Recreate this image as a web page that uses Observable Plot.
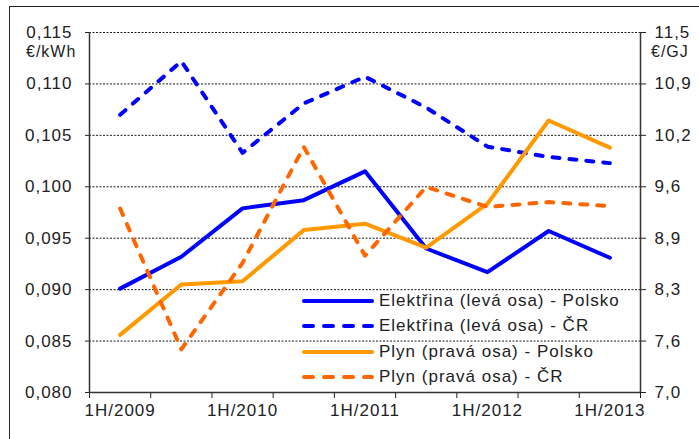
<!DOCTYPE html>
<html><head><meta charset="utf-8">
<script src="https://cdn.jsdelivr.net/npm/d3@7"></script>
<script src="https://cdn.jsdelivr.net/npm/@observablehq/plot@0.6"></script>
<style>
body{margin:0;background:#fff;}
#wrap{position:relative;width:699px;height:439px;overflow:hidden;font-family:"Liberation Sans",Arial,sans-serif;color:#222;}
#frame{position:absolute;left:9px;top:6px;width:720px;height:480px;border:1.5px solid #222;}
#chart{position:absolute;left:0;top:0;}
.unit{position:absolute;font-size:16px;letter-spacing:1px;}
#legend{position:absolute;left:302px;top:288px;}
.row{height:25.5px;display:flex;align-items:center;font-size:17px;letter-spacing:1px;white-space:nowrap;}
.row svg{margin-right:5px;}
</style></head><body>
<div id="wrap">
<div id="frame"></div>
<div id="chart"></div>
<div class="unit" style="left:26px;top:43px;">€/kWh</div>
<div class="unit" style="left:651px;top:43px;">€/GJ</div>
<div id="legend"></div>
</div>
<script>
const periods = ["1H/2009","2H/2009","1H/2010","2H/2010","1H/2011","2H/2011","1H/2012","2H/2012","1H/2013"];
const xLabels = ["1H/2009","1H/2010","1H/2011","1H/2012","1H/2013"];
const elPolsko = [0.0901,0.0932,0.0979,0.0987,0.1015,0.0940,0.0917,0.0957,0.0931];
const elCR = [0.1070,0.1122,0.1033,0.1081,0.1107,0.1077,0.1039,0.1029,0.1023];
const plynPolsko = [7.72,8.35,8.39,9.03,9.11,8.81,9.36,10.40,10.06];
const plynCR = [9.30,7.54,8.62,10.07,8.71,9.57,9.32,9.38,9.33];
const leftTicks = [0.080,0.085,0.090,0.095,0.100,0.105,0.110,0.115];
const rightTickLabels = ["7,0","7,6","8,3","8,9","9,6","10,2","10,9","11,5"];
const seriesNames = ["Elektřina (levá osa) - Polsko","Elektřina (levá osa) - ČR","Plyn (pravá osa) - Polsko","Plyn (pravá osa) - ČR"];
const seriesColors = ["#0000ff","#0000ff","#ff9900","#ff6600"];
const seriesDash = [null,"7,10",null,"7,10"];

const L0 = leftTicks[0], L1 = leftTicks[leftTicks.length-1];
const R0 = parseFloat(rightTickLabels[0].replace(",", ".")), R1 = parseFloat(rightTickLabels[rightTickLabels.length-1].replace(",", "."));
const toLeft = g => L0 + (g - R0) * (L1 - L0) / (R1 - R0);

const seriesValues = [elPolsko, elCR, plynPolsko.map(toLeft), plynCR.map(toLeft)];
const rows = [];
seriesValues.forEach((vals, s) => vals.forEach((v, i) => rows.push({i, v, s})));

const boundaries = periods.map((_, i) => i - 0.5).concat([periods.length - 0.5]);
const labelIdx = xLabels.map(l => periods.indexOf(l));
const fmtL = d => d3.format(".3f")(d).replace(".", ",");
const fmtR = d => rightTickLabels[Math.round((d - L0) / ((L1 - L0) / (rightTickLabels.length - 1)))];

const lineMarks = seriesValues.map((_, s) =>
  Plot.line(rows.filter(r => r.s === s), {
    x: "i", y: "v", stroke: seriesColors[s], strokeWidth: 4,
    strokeDasharray: seriesDash[s] || undefined,
    strokeLinecap: "round", strokeLinejoin: "round"
  })
);

const chart = Plot.plot({
  width: 699, height: 439,
  marginLeft: 89, marginRight: 59, marginTop: 32, marginBottom: 47,
  style: {fontFamily: "Liberation Sans, Arial, sans-serif", fontSize: "17px", letterSpacing: "1px", color: "#222", background: "transparent", overflow: "visible"},
  x: {domain: [-0.5, periods.length - 0.5]},
  y: {domain: [L0, L1]},
  marks: [
    Plot.gridY(leftTicks.slice(1), {stroke: "#000", strokeOpacity: 1, strokeWidth: 0.9, strokeDasharray: "2,1.5"}),
    Plot.axisY({anchor: "left", ticks: leftTicks, tickSize: 4, tickPadding: 13, tickFormat: fmtL, label: null, stroke: "#222"}),
    Plot.axisY({anchor: "right", ticks: leftTicks, tickSize: 5, tickPadding: 9, tickFormat: fmtR, label: null, stroke: "#222"}),
    Plot.axisX({ticks: boundaries, tickSize: 6, tickFormat: () => "", label: null, stroke: "#222"}),
    Plot.axisX({ticks: labelIdx, tickSize: 0, tickPadding: 11, tickFormat: i => periods[i], label: null}),
    Plot.ruleX([boundaries[0]], {stroke: "#333", strokeWidth: 1.5}),
    Plot.ruleX([boundaries[boundaries.length - 1]], {stroke: "#333", strokeWidth: 1.5}),
    Plot.ruleY([L0], {stroke: "#333", strokeWidth: 1.5}),
    ...lineMarks
  ]
});
document.getElementById("chart").appendChild(chart);

const legend = document.getElementById("legend");
seriesNames.forEach((name, s) => {
  const row = document.createElement("div");
  row.className = "row";
  const dash = seriesDash[s] ? 'stroke-dasharray="9,11" stroke-linecap="round"' : 'stroke-linecap="round"';
  row.innerHTML = `<svg width="72" height="10"><line x1="2" y1="5" x2="70" y2="5" stroke="${seriesColors[s]}" stroke-width="4" ${dash}/></svg><span>${name}</span>`;
  legend.appendChild(row);
});
</script>
</body></html>
